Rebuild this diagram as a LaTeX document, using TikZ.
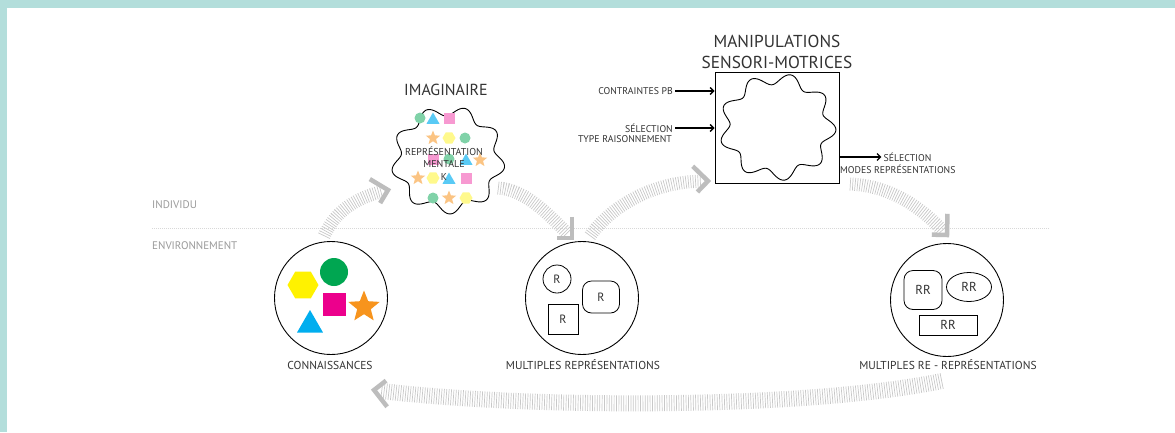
\documentclass[tikz,border=0pt]{standalone}
\usepackage{fontspec}
\setmainfont{PT Sans}
\usetikzlibrary{shapes.geometric,arrows.meta,decorations.markings}
\definecolor{teal0}{HTML}{B3DEDB}
\definecolor{hatch}{HTML}{C8C8C8}
\definecolor{chev}{HTML}{BDBDBD}
\definecolor{txt}{HTML}{333333}
\definecolor{lbl}{HTML}{9A9A9A}
\definecolor{dotc}{HTML}{D8D8D8}
\definecolor{cyel}{HTML}{FFF200}
\definecolor{cgrn}{HTML}{00A651}
\definecolor{cmag}{HTML}{EC008C}
\definecolor{corg}{HTML}{F7941D}
\definecolor{ccyn}{HTML}{00AEEF}
\colorlet{pgrn}{cgrn!50!white}
\colorlet{pcyn}{ccyn!65!white}
\colorlet{ppnk}{cmag!40!white}
\colorlet{porg}{corg!55!white}
\colorlet{pyel}{cyel!45!white}
\begin{document}
\begin{tikzpicture}[x=1pt,y=-1pt,
  band/.style={draw=hatch, line width=13pt, dash pattern=on 0.7pt off 1.7pt, shorten >=6pt,
    postaction={decorate, decoration={markings, mark=at position 0.9999 with {\draw[solid, draw=chev, line width=4.5pt, line cap=butt, miter limit=10] (-15pt,15pt) -- (0pt,0pt) -- (-15pt,-15pt);}}}},
  bigband/.style={band, line width=16pt},
  arr/.style={line width=1.3pt, -{Straight Barb[length=3.5pt,width=7pt]}},
  small/.style={font=\fontsize{9.8}{11}\selectfont, text=txt, inner sep=0pt},
  lab/.style={font=\fontsize{11.5}{13}\selectfont, text=txt, inner sep=0pt},
  side/.style={font=\fontsize{11}{12}\selectfont, text=lbl, inner sep=0pt, anchor=west},
  bigc/.style={circle, draw, line width=0.9pt, minimum size=113pt, inner sep=0pt},
  rr/.style={draw, line width=0.8pt, inner sep=0pt, font=\fontsize{12}{14}\selectfont, text=txt},
  rrr/.style={rr, font=\fontsize{13}{15}\selectfont},
  sdot/.style={circle, minimum size=11pt, inner sep=0pt, outer sep=0pt},
  stri/.style={regular polygon, regular polygon sides=3, minimum size=15pt, inner sep=0pt, outer sep=0pt},
  ssq/.style={rectangle, minimum size=11pt, inner sep=0pt, outer sep=0pt},
  shex/.style={regular polygon, regular polygon sides=6, minimum size=13pt, inner sep=0pt, outer sep=0pt},
  sstar/.style={star, star points=5, star point ratio=2.3, minimum size=15pt, inner sep=0pt, outer sep=0pt},
  cloudtxt/.style={font=\fontsize{10}{11}\selectfont, text=txt, inner sep=0pt}
]
\useasboundingbox (0,0) rectangle (1175,432);
\fill[teal0] (0,0) rectangle (1175,432);
\fill[white] (7,8) rectangle (1175,432);

% separator
\draw[dotc, line width=1pt, dash pattern=on 1pt off 1pt] (152,228) -- (1050,228);
\node[side] (ind) at (152,205) {INDIVIDU};
\node[side] (env) at (152,246) {ENVIRONNEMENT};

% hatched arrows
\coordinate (a1s) at (324,236); \coordinate (a1e) at (388,190);
\coordinate (a2s) at (498,188); \coordinate (a2e) at (572,238);
\coordinate (a3s) at (590,236); \coordinate (a3e) at (708,181);
\coordinate (a4s) at (850,184); \coordinate (a4e) at (947,235);
\coordinate (a5s) at (942,381); \coordinate (a5e) at (374,390);
\draw[band] (a1s) .. controls (334,214) and (352,199) .. (a1e);
\draw[band] (a2s) .. controls (525,190) and (545,211) .. (a2e);
\draw[band] (a3s) .. controls (610,208) and (650,182) .. (a3e);
\draw[band] (a4s) .. controls (895,186) and (925,212) .. (a4e);
\draw[bigband] (a5s) .. controls (800,410) and (520,408) .. (a5e);

% CONNAISSANCES
\node[bigc] (c1) at (331,298) {};
\node[regular polygon, regular polygon sides=6, minimum size=31pt, inner sep=0pt, fill=cyel] (k1) at (303,285) {};
\node[circle, minimum size=28pt, inner sep=0pt, fill=cgrn] (k2) at (334,272) {};
\node[rectangle, minimum size=23pt, inner sep=0pt, fill=cmag] (k3) at (334,304) {};
\node[star, star points=5, star point ratio=2.3, minimum size=33pt, inner sep=0pt, fill=corg] (k4) at (364,307) {};
\node[regular polygon, regular polygon sides=3, minimum size=30pt, inner sep=0pt, fill=ccyn] (k5) at (310,325) {};
\node[lab] (l1) at (330,365) {CONNAISSANCES};

% MULTIPLES REPRESENTATIONS
\node[bigc] (c2) at (582,298) {};
\node[rr, circle, minimum size=28pt] (r1) at (557,279) {R};
\node[rr, rounded corners=9pt, minimum width=37pt, minimum height=32pt] (r2) at (601,297) {R};
\node[rr, minimum size=30pt] (r3) at (563,319) {R};
\node[lab] (l2) at (583,365) {MULTIPLES REPRÉSENTATIONS};

% MULTIPLES RE-REPRESENTATIONS
\node[bigc] (c3) at (947,300) {};
\node[rrr, rounded corners=9pt, minimum width=38pt, minimum height=39pt] (q1) at (923,290) {RR};
\node[rrr, ellipse, minimum width=45pt, minimum height=29pt] (q2) at (969,287) {RR};
\node[rrr, minimum width=58pt, minimum height=20pt] (q3) at (948,325) {RR};
\node[lab] (l3) at (948,365) {MULTIPLES RE - REPRÉSENTATIONS};

% IMAGINAIRE cloud
\node[font=\fontsize{16}{18}\selectfont, text=txt, inner sep=0pt] (imt) at (446,90) {IMAGINAIRE};
\draw[line width=0.9pt, fill=white] plot[domain=0:360, samples=241, variable=\t]
  ({448 + (52 + 5*sin(9*\t+20))*cos(\t)}, {160 + (49 + 5*sin(9*\t+20))*sin(\t)}) -- cycle;
\node[sdot, fill=pgrn] (m1) at (420,118) {};
\node[stri, fill=pcyn] (m2) at (433,120) {};
\node[ssq, fill=ppnk] (m3) at (449,118) {};
\node[sstar, fill=porg] (m4) at (433,138) {};
\node[shex, fill=pyel] (m5) at (449,138) {};
\node[sdot, fill=pgrn] (m6) at (465,138) {};
\node[ssq, fill=ppnk] (m7) at (433,159) {};
\node[sdot, fill=pgrn] (m8) at (449,159) {};
\node[stri, fill=pcyn] (m9) at (466,161) {};
\node[sstar, fill=porg] (m10) at (480,160) {};
\node[sstar, fill=porg] (m11) at (418,178) {};
\node[shex, fill=pyel] (m12) at (433,178) {};
\node[stri, fill=pcyn] (m13) at (449,180) {};
\node[ssq, fill=ppnk] (m14) at (466,178) {};
\node[sdot, fill=pgrn] (m15) at (433,198) {};
\node[sstar, fill=porg] (m16) at (449,198) {};
\node[shex, fill=pyel] (m17) at (466,198) {};
\node[cloudtxt] (t1) at (444,151) {REPRÉSENTATION};
\node[cloudtxt] (t2) at (444,164) {MENTALE};
\node[cloudtxt] (t3) at (444,177) {K};

% MANIPULATIONS box
\node[font=\fontsize{17.3}{21}\selectfont, text=txt, inner sep=0pt, align=center] (mt) at (777,52) {MANIPULATIONS\\SENSORI-MOTRICES};
\node[draw, line width=0.9pt, minimum width=124pt, minimum height=111pt, inner sep=0pt] (box) at (777,127.5) {};
\draw[line width=0.9pt] plot[domain=0:360, samples=241, variable=\t]
  ({777.5 + (53 + 5.5*sin(9*\t+60))*cos(\t)}, {127 + (48 + 5.5*sin(9*\t+60))*sin(\t)}) -- cycle;

\node[small, anchor=east] (cp) at (673,91) {CONTRAINTES PB};
\draw[arr] ([xshift=2pt]cp.east) -- (cp.east -| box.west);
\node[small, anchor=east] (s1) at (673,128) {SÉLECTION};
\node[small, anchor=east] (s2) at (672,139.5) {TYPE RAISONNEMENT};
\draw[arr] ([xshift=2pt]s1.east) -- (s1.east -| box.west);
\coordinate (o1) at ([yshift=-29.5pt]box.east);
\coordinate (o2) at ([xshift=42pt]o1);
\draw[arr] (o1) -- (o2);
\node[small, anchor=west] (s3) at ([xshift=2pt]o2) {SÉLECTION};
\node[small, anchor=west] (s4) at (840,169.5) {MODES REPRÉSENTATIONS};
\end{tikzpicture}
\end{document}
